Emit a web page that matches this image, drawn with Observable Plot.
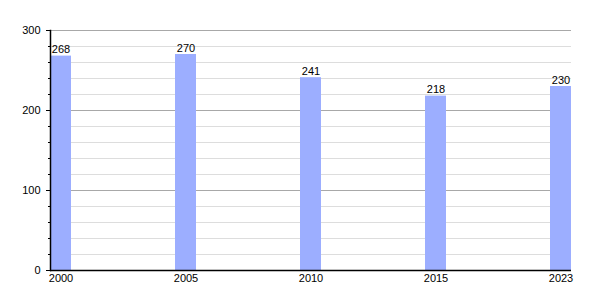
<!DOCTYPE html>
<html>
<head>
<meta charset="utf-8">
<script src="https://cdn.jsdelivr.net/npm/d3@7"></script>
<script src="https://cdn.jsdelivr.net/npm/@observablehq/plot@0.6"></script>
<style>
  html, body { margin: 0; padding: 0; background: #fff; }
  #chart svg { display: block; }
</style>
</head>
<body>
<div id="chart"></div>
<script>
const years = ["2000", "2005", "2010", "2015", "2023"];
const values = [268, 270, 241, 218, 230];
const majorTicks = [0, 100, 200, 300];
const minorTicks = [20, 40, 60, 80, 120, 140, 160, 180, 220, 240, 260, 280];

const data = years.map((year, i) => ({year, value: values[i]}));

const chart = Plot.plot({
  width: 600,
  height: 300,
  marginLeft: 50,
  marginRight: 29,
  marginTop: 30,
  marginBottom: 30,
  style: {fontFamily: "Liberation Sans, Arial, sans-serif", fontSize: "11px", color: "#000", background: "#fff"},
  x: {domain: years, paddingInner: 0.832, paddingOuter: 0, align: 0, label: null},
  y: {domain: [0, 300], label: null},
  marks: [
    Plot.ruleY(minorTicks, {stroke: "#dddddd", strokeWidth: 1}),
    Plot.ruleY(majorTicks.filter(d => d > 0), {stroke: "#a8a8a8", strokeWidth: 1}),
    Plot.barY(data, {x: "year", y: "value", fill: "#9caeff"}),
    Plot.text(data, {x: "year", y: "value", text: d => String(d.value), lineAnchor: "bottom", dy: -3, fill: "#000", fontSize: 11}),
    Plot.axisY({ticks: minorTicks, tickSize: 2, text: null, label: null, stroke: "#000"}),
    Plot.axisY({ticks: majorTicks, tickSize: 4, tickPadding: 6, fontSize: 11, label: null, stroke: "#000"}),
    Plot.axisX({tickSize: 0, tickPadding: 4, fontSize: 11, label: null}),
    Plot.frame({anchor: "left", stroke: "#000", strokeWidth: 1.5}),
    Plot.ruleY([0], {stroke: "#000", strokeWidth: 1.5})
  ]
});
document.getElementById("chart").appendChild(chart);
</script>
</body>
</html>
